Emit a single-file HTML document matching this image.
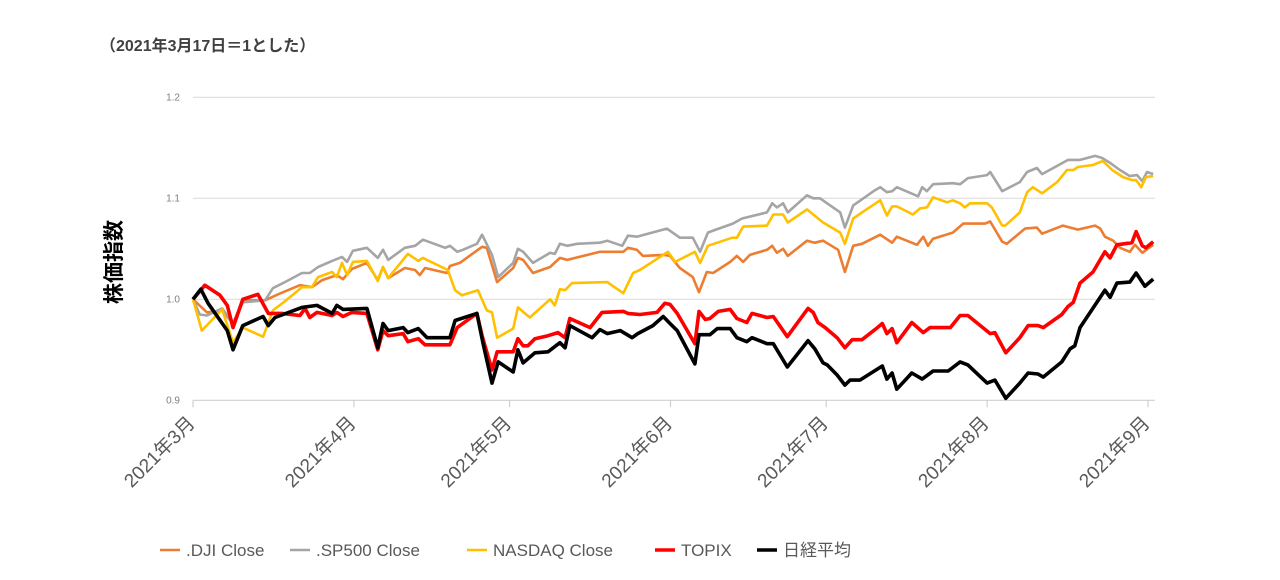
<!DOCTYPE html>
<html><head><meta charset="utf-8"><style>
html,body{margin:0;padding:0;background:#fff;}
svg{display:block;font-family:"Liberation Sans","Noto Sans CJK JP",sans-serif;}
</style></head><body>
<svg id="chart" width="1280" height="580" viewBox="0 0 1280 580" xmlns="http://www.w3.org/2000/svg">
<text x="100" y="51" font-size="16" font-weight="bold" fill="#404040">（2021年3月17日＝1とした）</text>
<text transform="translate(121,262) rotate(-90)" text-anchor="middle" font-size="21" font-weight="bold" fill="#000">株価指数</text>
<g id="grid"></g><g id="axes"></g><g id="series"></g><g id="legend"></g>
</svg>
<script>
const yTicks=[0.9,1.0,1.1,1.2];
const yTickLabels=["0.9","1.0","1.1","1.2"];
const monthDays=[0,31,61,92,122,153,184];
const monthLabels=["2021年3月","2021年4月","2021年5月","2021年6月","2021年7月","2021年8月","2021年9月"];
const seriesNames=[".DJI Close",".SP500 Close","NASDAQ Close","TOPIX","日経平均"];
const djiDays=[0,2.7,5.6,7.7,9.6,13.9,16.4,20.6,22.9,24.9,27.7,28.9,30.6,33.5,35.6,36.6,37.6,40.8,42.8,43.7,44.7,48.9,49.5,51.4,55.7,56.6,58.6,61.7,62.6,63.6,65.5,68.8,70.7,72.1,78.4,82.9,83.8,85.5,86.7,90.6,91.9,93.8,96.3,97.5,99.0,100.2,103.5,104.8,106.0,107.3,110.6,111.6,112.5,113.7,114.6,118.3,119.8,121.4,124.3,125.6,127.2,128.9,132.4,134.7,135.6,139.5,140.7,141.6,142.6,146.4,148.4,152.6,153.6,155.9,156.8,160.3,162.6,163.6,167.6,170.5,173.8,174.8,175.7,177.3,178.6,180.5,181.5,182.9,185.0];
const djiVals=[1.000,0.987,0.989,0.976,0.999,0.999,1.005,1.014,1.012,1.019,1.024,1.020,1.030,1.036,1.019,1.032,1.021,1.031,1.029,1.024,1.031,1.026,1.033,1.036,1.052,1.051,1.017,1.031,1.041,1.039,1.026,1.032,1.041,1.039,1.047,1.047,1.051,1.049,1.043,1.044,1.043,1.031,1.022,1.007,1.027,1.026,1.037,1.043,1.037,1.044,1.049,1.053,1.046,1.050,1.043,1.058,1.056,1.058,1.049,1.027,1.053,1.055,1.064,1.056,1.062,1.054,1.062,1.053,1.060,1.066,1.075,1.075,1.077,1.057,1.055,1.070,1.071,1.065,1.073,1.069,1.073,1.070,1.062,1.058,1.051,1.047,1.054,1.046,1.054];
const spDays=[0,1.3,2.7,5.6,7.7,9.6,13.9,15.4,17.7,21.0,22.5,24.1,26.8,28.7,29.7,30.8,33.5,35.6,36.6,37.6,40.8,42.8,44.3,48.6,49.5,50.9,52.0,54.7,55.7,57.6,58.8,61.7,62.6,63.6,65.5,68.8,69.7,70.7,72.1,74.0,78.4,79.8,82.7,83.8,85.5,91.3,93.8,96.3,97.7,99.2,100.2,104.0,105.8,110.6,111.6,112.5,113.7,114.6,118.3,119.5,120.8,124.7,125.6,127.2,128.9,131.4,132.4,133.7,134.7,135.6,139.7,140.5,141.4,142.6,146.4,147.8,149.3,153.0,153.6,155.9,159.3,160.7,162.6,163.6,168.6,170.9,173.8,175.1,176.7,178.6,180.5,181.9,182.9,183.8,185.0];
const spVals=[1.000,0.985,0.984,0.991,0.976,0.997,0.999,1.011,1.017,1.026,1.026,1.032,1.038,1.042,1.037,1.048,1.051,1.041,1.049,1.039,1.051,1.053,1.059,1.051,1.053,1.047,1.049,1.055,1.064,1.044,1.022,1.036,1.050,1.047,1.036,1.046,1.045,1.055,1.053,1.055,1.056,1.058,1.053,1.063,1.062,1.070,1.061,1.061,1.047,1.066,1.068,1.075,1.080,1.086,1.095,1.091,1.095,1.086,1.103,1.100,1.100,1.086,1.071,1.093,1.099,1.108,1.111,1.106,1.107,1.111,1.102,1.111,1.107,1.114,1.115,1.114,1.120,1.123,1.126,1.107,1.116,1.126,1.130,1.124,1.138,1.138,1.142,1.140,1.135,1.128,1.122,1.123,1.117,1.126,1.124];
const nqDays=[0,1.7,5.6,7.7,9.6,13.5,15.4,17.7,21.0,22.9,24.1,26.8,27.7,28.7,29.7,30.8,33.5,35.6,36.6,37.6,41.4,43.4,44.3,49.1,50.5,51.8,54.9,56.6,57.6,58.6,61.7,62.6,64.9,68.8,69.7,70.7,71.7,73.0,79.8,82.9,84.8,86.1,91.5,92.9,96.7,97.7,99.2,103.9,104.8,106.0,110.6,111.8,113.7,114.6,118.3,121.4,124.7,125.6,127.2,128.9,132.4,133.7,134.7,135.6,138.7,140.1,141.4,142.6,145.3,146.4,147.8,148.7,149.7,153.0,153.9,155.9,156.5,159.3,160.7,161.8,163.6,166.5,168.4,169.6,170.5,173.4,175.3,177.1,179.2,180.9,181.7,182.7,183.6,185.0];
const nqVals=[1.000,0.969,0.990,0.957,0.972,0.963,0.989,0.998,1.012,1.012,1.022,1.027,1.022,1.036,1.024,1.037,1.038,1.018,1.032,1.021,1.045,1.038,1.041,1.029,1.009,1.004,1.009,0.989,0.987,0.962,0.971,0.992,0.982,1.000,0.994,1.010,1.009,1.016,1.017,1.006,1.026,1.029,1.047,1.037,1.047,1.036,1.053,1.061,1.061,1.072,1.073,1.084,1.084,1.076,1.089,1.076,1.066,1.055,1.080,1.086,1.098,1.083,1.092,1.092,1.084,1.090,1.091,1.101,1.096,1.098,1.095,1.091,1.095,1.095,1.091,1.073,1.073,1.086,1.106,1.111,1.105,1.116,1.128,1.128,1.131,1.133,1.137,1.128,1.121,1.118,1.118,1.111,1.121,1.122];
const topixDays=[0,2.3,5.2,6.6,7.7,9.6,12.5,14.5,17.1,20.6,21.6,22.5,23.9,26.8,27.7,28.9,30.6,33.5,35.6,36.6,37.6,40.5,41.4,43.4,44.7,49.5,50.9,54.7,55.7,57.6,58.6,61.7,62.6,63.6,64.5,65.9,68.4,70.3,71.7,72.6,76.5,78.8,82.9,83.8,86.1,89.4,90.9,91.9,93.3,96.7,97.5,98.7,99.6,101.2,103.5,104.8,106.7,107.7,110.6,111.8,114.5,118.5,119.5,120.4,121.8,124.1,125.6,127.0,128.9,131.4,132.8,133.7,134.7,135.6,138.5,140.7,142.0,145.9,147.8,149.3,153.6,154.5,156.6,159.3,160.9,162.8,163.8,167.4,168.6,169.6,170.9,173.4,175.7,176.7,178.0,180.9,181.7,182.9,183.6,185.0];
const topixVals=[1.000,1.014,1.004,0.994,0.972,1.000,1.005,0.986,0.986,0.984,0.991,0.982,0.987,0.984,0.987,0.983,0.987,0.986,0.950,0.969,0.964,0.966,0.958,0.961,0.955,0.955,0.972,0.986,0.964,0.930,0.948,0.948,0.961,0.954,0.954,0.961,0.964,0.967,0.962,0.981,0.972,0.987,0.988,0.986,0.985,0.987,0.996,0.995,0.986,0.956,0.988,0.980,0.981,0.988,0.990,0.981,0.977,0.986,0.982,0.983,0.963,0.991,0.987,0.977,0.972,0.962,0.952,0.960,0.960,0.970,0.976,0.966,0.971,0.957,0.977,0.967,0.972,0.972,0.984,0.984,0.966,0.967,0.947,0.962,0.974,0.974,0.972,0.985,0.993,0.997,1.016,1.027,1.047,1.041,1.054,1.056,1.067,1.053,1.051,1.057];
const nikkeiDays=[0,1.5,2.9,6.6,7.7,9.6,13.5,14.5,15.8,21.0,23.9,26.8,27.7,28.9,33.5,35.6,36.6,37.6,40.5,41.4,43.4,45.1,49.5,50.5,54.7,55.9,57.6,58.8,61.7,62.6,63.6,65.9,68.4,70.7,71.7,72.6,76.9,78.4,79.8,82.3,84.6,85.7,88.6,90.6,91.9,93.3,96.7,97.5,99.6,101.0,103.5,104.8,106.7,107.7,110.6,111.8,114.5,118.5,119.8,121.4,122.2,124.1,125.6,126.6,128.5,132.8,133.7,134.7,135.6,138.5,140.5,142.6,145.5,147.8,149.3,153.0,154.5,156.6,159.3,160.9,162.8,163.8,167.4,169.0,169.9,170.9,175.7,176.7,178.0,180.5,181.7,183.4,185.0];
const nikkeiVals=[1.000,1.010,0.996,0.969,0.950,0.974,0.983,0.974,0.982,0.992,0.994,0.986,0.994,0.990,0.991,0.952,0.976,0.969,0.972,0.967,0.971,0.962,0.962,0.979,0.986,0.956,0.917,0.938,0.928,0.950,0.937,0.947,0.948,0.957,0.952,0.974,0.962,0.970,0.966,0.969,0.962,0.966,0.974,0.983,0.976,0.969,0.936,0.965,0.965,0.971,0.971,0.962,0.958,0.962,0.956,0.956,0.933,0.959,0.951,0.937,0.935,0.925,0.915,0.920,0.920,0.934,0.921,0.927,0.911,0.927,0.921,0.929,0.929,0.938,0.935,0.917,0.920,0.902,0.917,0.927,0.926,0.923,0.938,0.951,0.954,0.972,1.009,1.002,1.016,1.017,1.026,1.013,1.020];

const NS="http://www.w3.org/2000/svg";
const X0=193,X1=1148,D1=184,Y0=400.3,Y1=97.3,V0=0.9,V1=1.2;
function xs(d){return X0+(d/D1)*(X1-X0);}
function ys(v){return Y0-(v-V0)/(V1-V0)*(Y0-Y1);}
function mk(tag,attrs,parent){const e=document.createElementNS(NS,tag);for(const k in attrs)e.setAttribute(k,attrs[k]);parent.appendChild(e);return e;}
const grid=document.getElementById('grid'),axes=document.getElementById('axes'),ser=document.getElementById('series'),leg=document.getElementById('legend');
yTicks.forEach((v,i)=>{
  if(i>0){const g=mk('line',{x1:X0,x2:1155,y1:ys(v),y2:ys(v),stroke:'#d9d9d9','stroke-width':1},grid);
  
  }
  const t=mk('text',{x:180,y:ys(v)+3,'text-anchor':'end','font-size':10,fill:'#7f7f7f'},axes);
  t.textContent=yTickLabels[i];
  
  
});
const ax=mk('line',{x1:X0,x2:1155,y1:Y0,y2:Y0,stroke:'#d0d0d0','stroke-width':1.2},axes);


monthDays.forEach((d,i)=>{
  const x=xs(d);
  const tk=mk('line',{x1:x,x2:x,y1:Y0,y2:Y0+7,stroke:'#d0d0d0','stroke-width':1.2},axes);
  
  
  const t=mk('text',{transform:`translate(${x+3},${Y0+24}) rotate(-45)`,'text-anchor':'end','font-size':19,fill:'#595959'},axes);
  t.textContent=monthLabels[i];
  
  
});
const seriesDays=[djiDays,spDays,nqDays,topixDays,nikkeiDays];
const seriesVals=[djiVals,spVals,nqVals,topixVals,nikkeiVals];
const colors=['#ed7d31','#a5a5a5','#ffc000','#ff0000','#000000'];
const widths=[2.6,2.6,2.6,3.6,3.6];
const keys=['dji','sp500','nasdaq','topix','nikkei'];
seriesDays.forEach((ds,i)=>{
  const pts=ds.map((d,j)=>xs(d).toFixed(1)+','+ys(seriesVals[i][j]).toFixed(1)).join(' ');
  const p=mk('polyline',{points:pts,fill:'none',stroke:colors[i],'stroke-width':widths[i],'stroke-linejoin':'round'},ser);
  
  
});
const legX=[160,290,467,655,757];
seriesNames.forEach((n,i)=>{
  const g=mk('g',{},leg);
  
  
  mk('line',{x1:legX[i],x2:legX[i]+20,y1:550,y2:550,stroke:colors[i],'stroke-width':widths[i]},g);
  const t=mk('text',{x:legX[i]+26,y:556,'font-size':17,fill:'#595959'},g);
  t.textContent=n;
});
</script>
</body></html>
